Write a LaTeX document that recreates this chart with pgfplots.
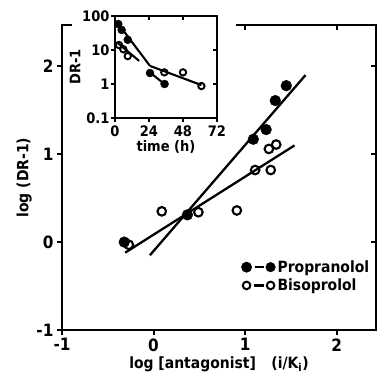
\documentclass[border=0pt]{standalone}
\usepackage{fontspec}
\setmainfont{DejaVu Sans Condensed}[BoldFont={DejaVu Sans Condensed Bold}]
\usepackage{pgfplots}
\pgfplotsset{compat=1.18}
\usetikzlibrary{calc}

% Schild plot: log(DR-1) vs log antagonist concentration
\pgfplotstableread{
x y
-0.32 0.00
0.37 0.31
1.09 1.17
1.23 1.28
1.33 1.61
1.45 1.78
}\propdata
\pgfplotstableread{
x y
-0.27 -0.03
0.09 0.35
0.49 0.34
0.91 0.36
1.11 0.82
1.28 0.82
1.26 1.06
1.34 1.11
}\bisodata
% time course of DR-1 (inset)
\pgfplotstableread{
t d
2.3 58
4.7 39
9 20
24.7 2.1
35 1.0
}\proptime
\pgfplotstableread{
t d
2.8 14
5.9 10.5
9 6.6
34.8 2.2
48 2.2
61 0.87
}\bisotime

\begin{document}
\begin{tikzpicture}[font=\bfseries]
\pgfplotsset{
  framed/.style={
    scale only axis,
    axis line style={line width=2.4pt},
    every tick/.style={line width=2pt, black},
    major tick length=5pt,
  },
}
\begin{axis}[name=main, framed,
  width=314pt, height=305pt,
  xmin=-1, xmax=2.43, ymin=-1, ymax=2.47,
  xtick={-1,0,1,2}, xticklabels={-1,0,1,2},
  ytick={-1,0,1,2}, yticklabels={-1,0,1,2},
  tick pos=left, tick align=outside,
  ticklabel style={font=\fontsize{17}{17}\selectfont\bfseries},
  xlabel={log [antagonist]\quad(i/K\textsubscript{i})},
  ylabel={log (DR-1)},
  label style={font=\fontsize{15.5}{15.5}\selectfont\bfseries},
  xlabel style={yshift=2pt},
  ylabel style={yshift=-2pt},
  legend style={at={(0.57,0.235)}, anchor=north west, draw=none, fill=none,
    font=\fontsize{15.5}{16}\selectfont\bfseries, row sep=1pt,
    inner sep=0pt},
  legend cell align=left,
]
\addlegendimage{legend image code/.code={
  \draw[line width=2.2pt] (8pt,0pt) -- (17pt,0pt);
  \fill (0pt,0pt) circle (5.2pt);
  \fill (24pt,0pt) circle (4.8pt);}}
\addlegendentry{Propranolol}
\addlegendimage{legend image code/.code={
  \draw[line width=2.2pt] (7pt,0pt) -- (17pt,0pt);
  \draw[line width=2pt] (0pt,0pt) circle (3.8pt);
  \draw[line width=2pt] (24pt,0pt) circle (3.8pt);}}
\addlegendentry{Bisoprolol}
% fitted regression lines
\addplot[line width=2.3pt, forget plot] coordinates {(-0.04,-0.15) (1.66,1.9)};
\addplot[line width=2.3pt, forget plot] coordinates {(-0.31,-0.12) (1.54,1.10)};
\addplot[only marks, mark=*, mark size=5.4pt, forget plot] table[x=x, y=y] {\propdata};
\addplot[only marks, mark=o, mark size=4.3pt, line width=2.1pt,
  mark options={fill=white}, forget plot] table[x=x, y=y] {\bisodata};
\end{axis}
% inward ticks on the top and right sides
\begin{axis}[framed, at={(main.south west)}, anchor=south west,
  width=314pt, height=305pt,
  xmin=-1, xmax=2.43, ymin=-1, ymax=2.47,
  xtick={-1,0,1,2}, ytick={-1,0,1,2},
  xticklabels={}, yticklabels={},
  tick pos=right, tick align=inside]
\end{axis}
% gap in the top frame around the inset
\fill[white] ($(main.north west)+(10pt,-2.5pt)$) rectangle ($(main.north west)+(174pt,2.5pt)$);
\begin{axis}[name=inset, framed,
  at={($(main.south west)+(53pt,212pt)$)}, anchor=south west,
  width=102pt, height=102pt,
  axis background/.style={fill=white},
  xmin=0, xmax=72, ymode=log, ymin=0.1, ymax=100,
  xtick={0,24,48,72}, xticklabels={0,24,48,72},
  ytick={0.1,1,10,100}, yticklabels={0.1,1,10,100},
  minor y tick style={draw=none},
  tick pos=left, tick align=outside, major tick length=4pt,
  ticklabel style={font=\fontsize{14.5}{14.5}\selectfont\bfseries},
  yticklabel style={xshift=2pt},
  xlabel={time (h)}, ylabel={DR-1},
  label style={font=\fontsize{14.5}{14.5}\selectfont\bfseries},
  xlabel style={yshift=3pt},
  ylabel style={yshift=-5pt},
]
\addplot[line width=2.1pt] coordinates {(1.2,68) (24.7,3.4)};
\addplot[line width=2.1pt] coordinates {(24.7,3.4) (61,0.93)};
\addplot[line width=2.1pt] coordinates {(25.9,2.0) (34.8,1.0)};
\addplot[line width=2.1pt] coordinates {(1.2,17) (17,4.8)};
\addplot[only marks, mark=*, mark size=4pt] table[x=t, y=d] {\proptime};
\addplot[only marks, mark=o, mark size=3.2pt, line width=1.9pt,
  mark options={fill=white}] table[x=t, y=d] {\bisotime};
\end{axis}
\begin{axis}[framed, at={(inset.south west)}, anchor=south west,
  width=102pt, height=102pt, major tick length=4pt,
  xmin=0, xmax=72, ymode=log, ymin=0.1, ymax=100,
  xtick={0,24,48,72}, ytick={0.1,1,10,100},
  minor y tick style={draw=none},
  xticklabels={}, yticklabels={},
  tick pos=right, tick align=inside]
\end{axis}
\pgfresetboundingbox
\path ($(main.south west)+(-62pt,-49pt)$) rectangle ($(main.north east)+(1pt,25pt)$);
\end{tikzpicture}
\end{document}
